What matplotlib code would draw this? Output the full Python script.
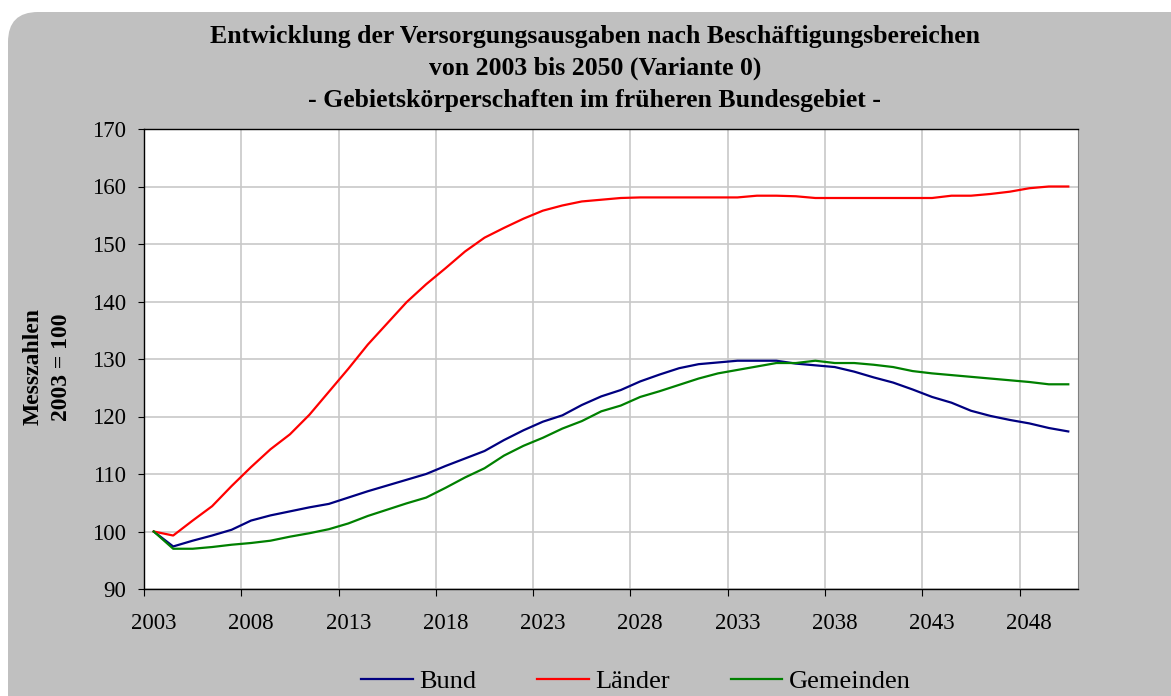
import matplotlib
matplotlib.use("Agg")
import matplotlib.pyplot as plt
from matplotlib.patches import FancyBboxPatch
from matplotlib.transforms import IdentityTransform

plt.rcParams['font.family'] = ['Liberation Serif', 'DejaVu Serif']

# data (Messzahlen, 2003 = 100)
years = list(range(2003, 2051))
bund = [100, 97.4, 98.4, 99.3, 100.3, 101.9, 102.8, 103.5, 104.2, 104.8, 105.9, 107.0, 108.0, 109.0, 110.0,
        111.4, 112.7, 114.0, 115.9, 117.6, 119.1, 120.2, 122.0, 123.5, 124.6, 126.1, 127.3, 128.4, 129.1, 129.4, 129.7,
        129.7, 129.7, 129.2, 128.9, 128.6, 127.8, 126.8, 125.9, 124.7, 123.4, 122.4, 121.0, 120.1, 119.4, 118.8, 118.0, 117.4]
laender = [100, 99.3, 101.9, 104.4, 107.9, 111.2, 114.3, 116.9, 120.3, 124.3, 128.3, 132.5, 136.2, 139.9, 143.0,
           145.8, 148.7, 151.1, 152.8, 154.4, 155.8, 156.7, 157.4, 157.7, 158.0, 158.1, 158.1, 158.1, 158.1, 158.1, 158.1,
           158.4, 158.4, 158.3, 158.0, 158.0, 158.0, 158.0, 158.0, 158.0, 158.0, 158.4, 158.4, 158.7, 159.1, 159.7, 160.0, 160.0]
gemeinden = [100, 97.0, 97.0, 97.3, 97.7, 98.0, 98.4, 99.1, 99.7, 100.4, 101.4, 102.7, 103.8, 104.9, 105.9,
             107.6, 109.4, 111.0, 113.2, 114.9, 116.3, 117.9, 119.2, 120.9, 121.9, 123.4, 124.4, 125.5, 126.6, 127.5, 128.1,
             128.7, 129.3, 129.3, 129.7, 129.3, 129.3, 129.0, 128.6, 127.9, 127.5, 127.2, 126.9, 126.6, 126.3, 126.0, 125.6, 125.6]
label_years = list(range(2003, 2051, 5))
yticks = list(range(90, 171, 10))

W, H = 1171, 696
fig = plt.figure(figsize=(W / 100, H / 100), dpi=100, facecolor='white')

# gray rounded background
bg = FancyBboxPatch((8, -60), 1300, H - 12 + 60, boxstyle="round,pad=0,rounding_size=30",
                    transform=IdentityTransform(), facecolor='#C0C0C0', edgecolor='none', zorder=-5)
fig.patches.append(bg)

ax = fig.add_axes([144 / W, 1 - 589 / H, (1078 - 144) / W, (589 - 129) / H])
ax.set_facecolor('white')

ax.plot(years, bund, color='#000080', lw=1.6, label='Bund')
ax.plot(years, laender, color='#FF0000', lw=1.6, label='Länder')
ax.plot(years, gemeinden, color='#008000', lw=1.6, label='Gemeinden')

ax.set_xlim(years[0] - 0.5, years[-1] + 0.5)
ax.set_ylim(90, 170)
ax.set_yticks(yticks)
ax.set_xticks([y - 0.5 for y in label_years])
ax.set_xticklabels([])
ax.set_xticks(label_years, minor=True)
ax.set_xticklabels([str(y) for y in label_years], minor=True)
ax.tick_params(axis='x', which='minor', length=0, pad=17, labelsize=16.5)
ax.tick_params(axis='x', which='major', length=5, direction='out', width=0.8)
ax.tick_params(axis='y', length=4.5, pad=8.5, labelsize=16.5, width=0.8)

ax.grid(True, which='major', color='#C8C8C8', lw=1.2)
ax.set_axisbelow(True)
for s in ['left', 'bottom', 'top']:
    ax.spines[s].set_color('black')
    ax.spines[s].set_linewidth(1.0)
ax.spines['right'].set_color('#808080')

# titles
titles = ['Entwicklung der Versorgungsausgaben nach Beschäftigungsbereichen',
          'von 2003 bis 2050 (Variante 0)',
          '- Gebietskörperschaften im früheren Bundesgebiet -']
for i, t in enumerate(titles):
    fig.text(595 / W, 1 - (43 + 32 * i) / H, t, ha='center', va='baseline',
             fontsize=18.5, fontweight='bold')

fig.text(47 / W, 1 - 367 / H, 'Messzahlen\n2003 = 100', rotation=90, ha='center', va='center',
         multialignment='center', fontsize=17, fontweight='bold', linespacing=1.45)

fig.legend(loc='center', bbox_to_anchor=(636 / W, 1 - 681 / H), ncol=3, frameon=False,
           fontsize=19, handlelength=1.95, handletextpad=0.25, columnspacing=2.3)

fig.savefig('out.png', dpi=100, facecolor='white')
